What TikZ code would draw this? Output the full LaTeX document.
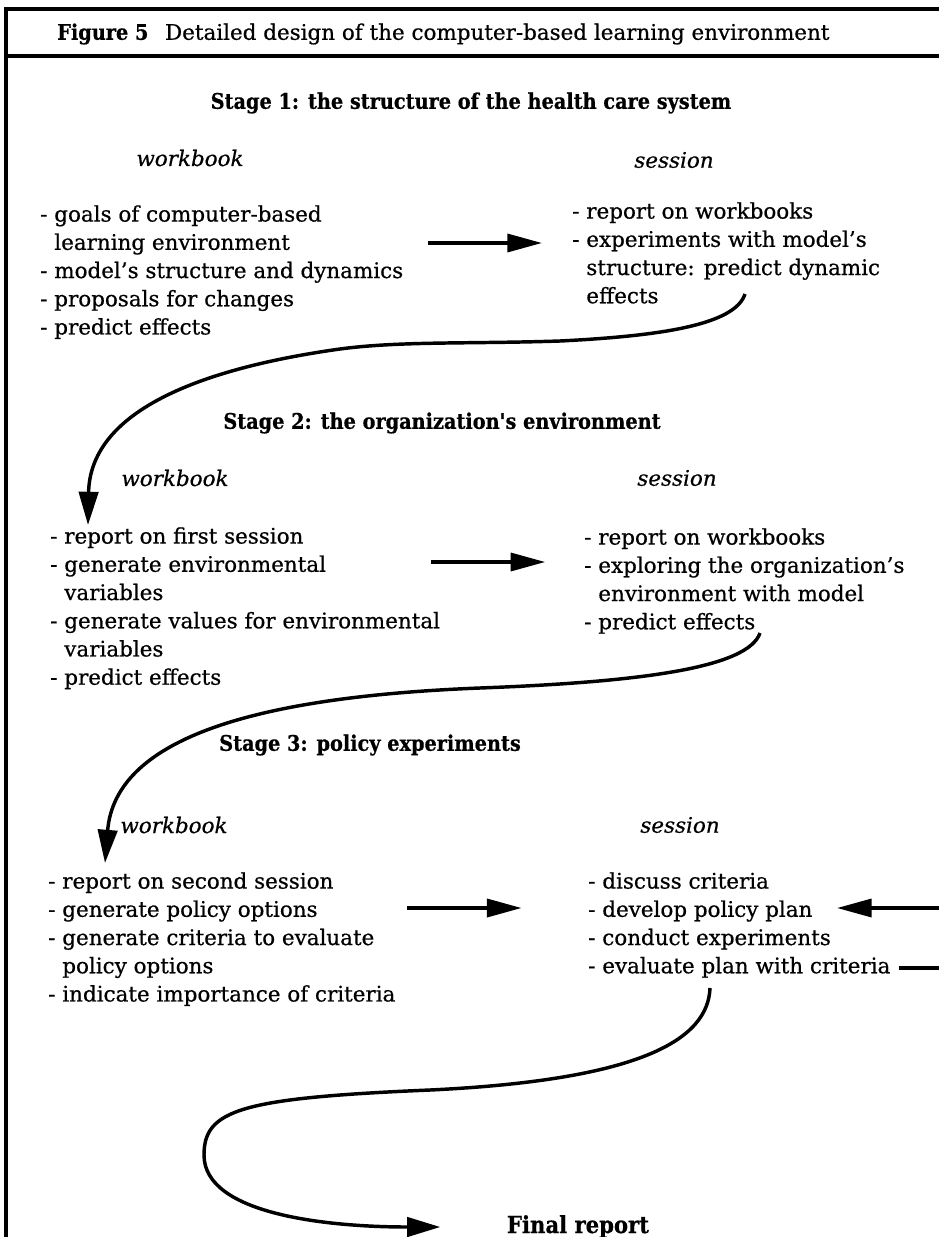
\documentclass[tikz,border=0pt]{standalone}
\usepackage{fontspec}
\setmainfont{DejaVu Serif}[FakeBold=0.6]
\newfontfamily\condfont{DejaVu Serif Condensed}[FakeBold=0.6]
\usetikzlibrary{arrows.meta,positioning}

\newcommand{\cont}{\hphantom{- }}

\tikzset{
  listtext/.style={anchor=north west, align=left, inner sep=0pt,
    font=\fontsize{15.5}{20.4}\selectfont},
  colhead/.style={inner sep=0pt, font=\fontsize{15.5}{18}\selectfont\itshape},
  stagehead/.style={inner sep=0pt, font=\fontsize{15.5}{18}\selectfont\condfont\bfseries},
  flow/.style={line width=2.5pt, -{Triangle[length=25pt,width=13pt]}},
  swoop/.style={line width=2.5pt, -{Triangle[length=24pt,width=14pt]}},
}

\begin{document}
\begin{tikzpicture}[x=0.254mm, y=-0.254mm]
        \useasboundingbox (0,0) rectangle (939,1237);
        % Frame
        \draw[line width=2.8pt] (939,9) -- (6,9) -- (6,1240);
        \draw[line width=2.6pt] (6,56) -- (939,56);
        % Title
        \node[inner sep=0pt, anchor=west, font=\fontsize{15.5}{18}\selectfont] (title) at (57,34)
            {{\condfont\bfseries Figure 5}\hspace{12pt}Detailed design of the computer-based learning environment};
        % Stage 1
        \node[stagehead] (st1) at (471,103) {Stage 1: the structure of the health care system};
        \node[colhead] (wbh1) at (190,158) {workbook};
        \node[colhead] (ssh1) at (674,160) {session};
        \node[listtext] (wb1) at (40,205) {- goals of computer-based\\\cont learning environment\\- model's structure and dynamics\\- proposals for changes\\- predict effects};
        \node[listtext] (ss1) at (572,202) {- report on workbooks\\- experiments with model's\\\cont structure: predict dynamic\\\cont effects};
        % Stage 2
        \node[stagehead] (st2) at (442,423) {Stage 2: the organization's environment};
        \node[colhead] (wbh2) at (175,478) {workbook};
        \node[colhead] (ssh2) at (677,478) {session};
        \node[listtext] (wb2) at (50,527) {- report on first session\\- generate environmental\\\cont variables\\- generate values for environmental\\\cont variables\\- predict effects};
        \node[listtext] (ss2) at (584,528) {- report on workbooks\\- exploring the organization's\\\cont environment with model\\- predict effects};
        % Stage 3
        \node[stagehead] (st3) at (370,745) {Stage 3: policy experiments};
        \node[colhead] (wbh3) at (174,825) {workbook};
        \node[colhead] (ssh3) at (680,825) {session};
        \node[listtext] (wb3) at (48,872) {- report on second session\\- generate policy options\\- generate criteria to evaluate\\\cont policy options\\- indicate importance of criteria};
        \node[listtext] (ss3) at (588,872) {- discuss criteria\\- develop policy plan\\- conduct experiments\\- evaluate plan with criteria};
        % Final report
        \node[inner sep=0pt, anchor=base, font=\fontsize{17}{20}\selectfont\condfont\bfseries] (fin) at (578,1233) {Final report};
        % Arrow ends
        \coordinate (a1) at (428,243);
        \coordinate (a2) at (431,562);
        \coordinate (a3) at (407,908);
        \coordinate (loopin) at (939,908);
        \coordinate (planin) at (837,908);
        \coordinate (loopout) at (939,968);
        \coordinate (c1s) at (745,294);
        \coordinate (c1e) at (88,525);
        \coordinate (c2s) at (760,633);
        \coordinate (c2e) at (105,863);
        \coordinate (c3s) at (710,988);
        % Workbook to session
        \draw[flow, shorten >=21.7pt] (a1) -- (ss1.west |- a1);
        \draw[flow, shorten >=28pt] (a2) -- (ss2.west |- a2);
        \draw[flow, shorten >=48pt] (a3) -- (ss3.west |- a3);
        % Loop of stage 3
        \draw[flow] (loopin) -- (planin);
        \draw[line width=2.5pt, shorten <=6pt] (ss3.east |- loopout) -- (loopout);
        % Session to next stage
        \draw[swoop] (c1s) .. controls (735,325) and (660,336) .. (560,341)
            .. controls (470,344) and (400,341) .. (340,349)
            .. controls (190,370) and (90,415) .. (c1e);
        \draw[swoop] (c2s) .. controls (748,668) and (640,682) .. (480,688)
            .. controls (250,697) and (115,740) .. (c2e);
        \draw[swoop] (c3s) .. controls (708,1040) and (640,1080) .. (430,1090)
            .. controls (240,1098) and (204,1110) .. (204,1155)
            .. controls (204,1215) and (330,1227) .. (fin.west |- 0,1227) [shorten >=48pt];
\end{tikzpicture}
\end{document}
